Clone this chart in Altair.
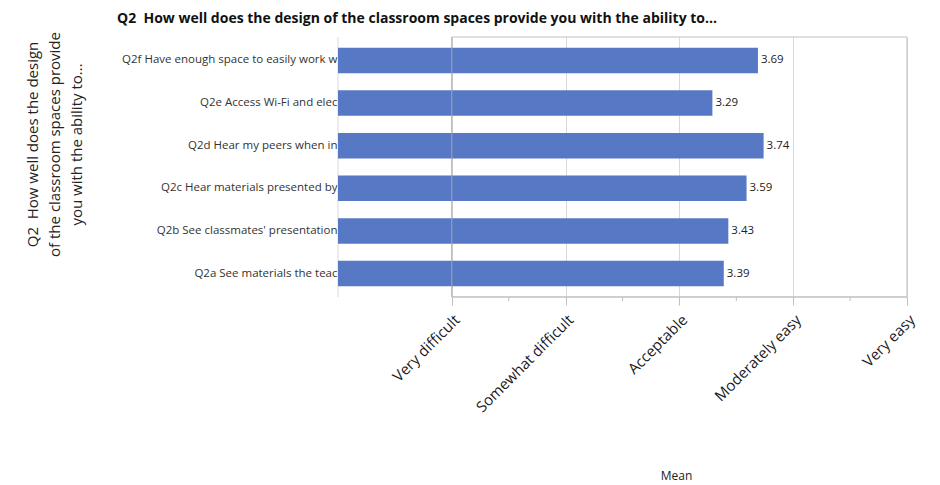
import json
import altair as alt
import pandas as pd

# ---- data ----
items = [
    "Q2f Have enough space to easily work w",
    "Q2e Access Wi-Fi and elec",
    "Q2d Hear my peers when in",
    "Q2c Hear materials presented by",
    "Q2b See classmates' presentation",
    "Q2a See materials the teac",
]
means = [3.69, 3.29, 3.74, 3.59, 3.43, 3.39]

x_tick_values = [1, 2, 3, 4, 5]
x_tick_labels = ["Very difficult", "Somewhat difficult", "Acceptable", "Moderately easy", "Very easy"]
minor_tick_values = [1.5, 2.5, 3.5, 4.5]

chart_title = "Q2\u00a0 How well does the design of the classroom spaces provide you with the ability to..."
y_title = ["Q2\u00a0 How well does the design", "of the classroom spaces provide", "you with the ability to..."]
x_title = "Mean"

FONT = "Open Sans"
W, H = 569, 260

df = pd.DataFrame({"item": items, "mean": means})
label_arr = json.dumps([""] + x_tick_labels)

x_scale = alt.Scale(domain=[0, 5], nice=False, zero=False)

bars = alt.Chart(df).mark_bar(color="#5778c5").encode(
    x=alt.X("mean:Q", scale=x_scale,
            axis=alt.Axis(values=x_tick_values, labelExpr=f"{label_arr}[datum.value]",
                          labelAngle=-45, labelAlign="right", labelBaseline="top",
                          labelFontSize=15, labelFont=FONT, labelColor="#1a1a1a",
                          labelPadding=7, tickSize=8, tickColor="#bfbfbf",
                          grid=True, gridColor="#d9d9d9", domain=False,
                          title=x_title, titleFont=FONT, titleFontSize=12,
                          titleFontWeight="normal", titleColor="#222222",
                          titleX=338, titleY=178, titleBaseline="middle")),
    y=alt.Y("item:N", sort=items,
            scale=alt.Scale(paddingInner=0.4, paddingOuter=0.25),
            axis=alt.Axis(domain=False, ticks=False, labelPadding=1,
                          labelFont=FONT, labelFontSize=11.5, labelColor="#333333",
                          labelLimit=400,
                          title=y_title, titleFont=FONT, titleFontSize=15,
                          titleFontWeight="normal", titleColor="#222222",
                          titleLineHeight=22, titleAngle=-90, titleAlign="center",
                          titleBaseline="middle", titleX=-306, titleY=107)),
)

texts = alt.Chart(df).mark_text(align="left", dx=3, font=FONT, fontSize=11.5,
                                color="#222222").encode(
    x=alt.X("mean:Q", scale=x_scale),
    y=alt.Y("item:N", sort=items),
    text=alt.Text("mean:Q", format=".2f"),
)

zero_line = alt.Chart(pd.DataFrame({"v": [0]})).mark_rule(color="#d9d9d9").encode(
    x=alt.X("v:Q", scale=x_scale))
one_line = alt.Chart(pd.DataFrame({"v": [1]})).mark_rule(color="#a6a6a6").encode(
    x=alt.X("v:Q", scale=x_scale))
right_line = alt.Chart(pd.DataFrame({"v": [5]})).mark_rule(color="#bfbfbf").encode(
    x=alt.X("v:Q", scale=x_scale))
frame_df = pd.DataFrame({"a": [1], "b": [5]})
top_line = alt.Chart(frame_df).mark_rule(color="#bfbfbf").encode(
    x=alt.X("a:Q", scale=x_scale), x2="b:Q", y=alt.value(0))
bottom_line = alt.Chart(frame_df).mark_rule(color="#bfbfbf", strokeWidth=1.5).encode(
    x=alt.X("a:Q", scale=x_scale), x2="b:Q", y=alt.value("height"))
minor = alt.Chart(pd.DataFrame({"v": minor_tick_values})).mark_rule(
    color="#bfbfbf", y2Offset=4).encode(
    x=alt.X("v:Q", scale=x_scale), y=alt.value("height"), y2=alt.value("height"))

chart = alt.layer(zero_line, bars, one_line, right_line, top_line, bottom_line, minor, texts).properties(
    width=W, height=H,
    autosize=alt.AutoSizeParams(type="none"),
    padding={"left": 330, "top": 29, "right": 20, "bottom": 188},
    title=alt.TitleParams(chart_title, anchor="start", frame="group", dx=-221, dy=-2,
                          fontSize=14, font=FONT, fontWeight="bold", color="#111111"),
).configure_view(stroke=None)

chart.save("out.html", embed_options={"renderer": "svg", "actions": False})
